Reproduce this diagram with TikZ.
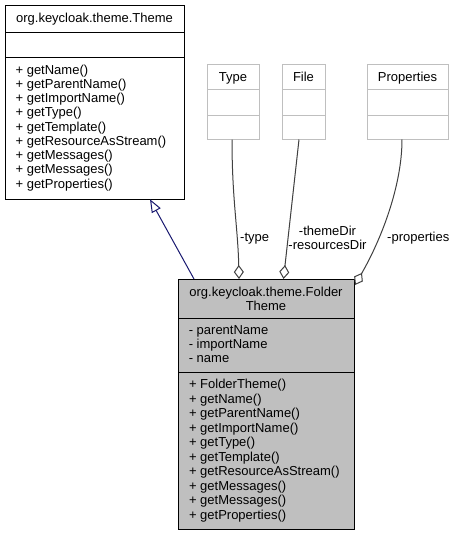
\documentclass[tikz,border=0pt]{standalone}
\usepackage{fontspec}
\setmainfont{Liberation Sans}
\usetikzlibrary{arrows.meta,calc}
\definecolor{boxgray}{HTML}{BFBFBF}
\definecolor{edgegray}{HTML}{404040}
\definecolor{inhblue}{HTML}{191970}
\newcommand{\fs}[1]{\fontsize{13}{#1}\selectfont}
\begin{document}
\begin{tikzpicture}[x=1pt,y=-1pt,
  clsbox/.style={draw=black, line width=1pt, fill=white, anchor=north west, inner sep=0pt, outer sep=0pt},
  grybox/.style={clsbox, fill=boxgray},
  extbox/.style={draw=boxgray, line width=1pt, fill=white, anchor=north west, inner sep=0pt, outer sep=0pt},
  ttl/.style={inner sep=0pt, align=center, anchor=north},
  mem/.style={inner sep=0pt, align=left, anchor=north west},
  lbl/.style={inner sep=0pt, font=\fs{14.3}},
  agg/.style={draw=edgegray, line width=1pt, -{Diamond[fill=white, length=14pt, width=10pt]}},
  inh/.style={draw=inhblue, line width=1pt, -{Triangle[fill=white, length=13pt, width=10pt]}}]
\useasboundingbox (0,0) rectangle (455,536);

% org.keycloak.theme.Theme
\node[clsbox, minimum width=179pt, minimum height=194.3pt] (theme) at (5,5) {};
\draw ($(theme.north west)+(0,27)$) -- ($(theme.north east)+(0,27)$);
\draw ($(theme.north west)+(0,52)$) -- ($(theme.north east)+(0,52)$);
\node[ttl, font=\fs{14.3}] (themetitle) at (94.5,12.6) {\strut org.keycloak.theme.Theme};
\node[mem, font=\fs{14.25}] (thememeth) at (15.4,64) {\strut + getName()\\+ getParentName()\\+ getImportName()\\+ getType()\\+ getTemplate()\\+ getResourceAsStream()\\+ getMessages()\\+ getMessages()\\+ getProperties()};

% Type
\node[extbox, minimum width=52pt, minimum height=75.5pt] (type) at (207,64) {};
\draw[boxgray] ($(type.north west)+(0,25.5)$) -- ($(type.north east)+(0,25.5)$);
\draw[boxgray] ($(type.north west)+(0,51.5)$) -- ($(type.north east)+(0,51.5)$);
\node[ttl, font=\fs{14.3}] (typetitle) at (233,71.7) {\strut Type};

% File
\node[extbox, minimum width=43pt, minimum height=75.5pt] (file) at (282,64) {};
\draw[boxgray] ($(file.north west)+(0,25.5)$) -- ($(file.north east)+(0,25.5)$);
\draw[boxgray] ($(file.north west)+(0,51.5)$) -- ($(file.north east)+(0,51.5)$);
\node[ttl, font=\fs{14.3}] (filetitle) at (303.5,71.7) {\strut File};

% Properties
\node[extbox, minimum width=81pt, minimum height=75.5pt] (props) at (367,64) {};
\draw[boxgray] ($(props.north west)+(0,25.5)$) -- ($(props.north east)+(0,25.5)$);
\draw[boxgray] ($(props.north west)+(0,51.5)$) -- ($(props.north east)+(0,51.5)$);
\node[ttl, font=\fs{14.3}] (propstitle) at (407.5,71.7) {\strut Properties};

% org.keycloak.theme.FolderTheme
\node[grybox, minimum width=176.5pt, minimum height=250.5pt] (folder) at (178,279) {};
\draw ($(folder.north west)+(0,39)$) -- ($(folder.north east)+(0,39)$);
\draw ($(folder.north west)+(0,93)$) -- ($(folder.north east)+(0,93)$);
\node[ttl, font=\fs{13}] (foldertitle) at (266,286.9) {\strut org.keycloak.theme.Folder\\Theme};
\node[mem, font=\fs{14}] (folderattr) at (188.6,324.2) {\strut - parentName\\- importName\\- name};
\node[mem, font=\fs{14.5}] (foldermeth) at (188.8,378.6) {\strut + FolderTheme()\\+ getName()\\+ getParentName()\\+ getImportName()\\+ getType()\\+ getTemplate()\\+ getResourceAsStream()\\+ getMessages()\\+ getMessages()\\+ getProperties()};

% inheritance
\draw[inh] ($(folder.north west)+(16,0)$) -- ($(theme.south west)+(145,0)$);

% aggregations
\draw[agg] ($(type.south)+(-1,0)$) .. controls +(0,60) and +(-1,-50) .. ($(folder.north west)+(61,0)$);
\draw[agg] ($(file.south)+(-4.5,0)$) -- ($(folder.north west)+(105.5,0)$);
\draw[agg] ($(props.south)+(-5.5,0)$) .. controls +(0,45.5) and +(27,-47) .. ($(folder.north east)+(0.5,6)$);

% labels
\node[lbl, anchor=base west] (ltype) at (240,241.7) {-type};
\node[inner sep=0pt, align=center, anchor=north, font=\fs{13}] (lfile) at (327.5,225.4) {\strut -themeDir\\-resourcesDir};
\node[lbl, anchor=base] (lprops) at (418.3,241.7) {-properties};
\end{tikzpicture}
\end{document}
